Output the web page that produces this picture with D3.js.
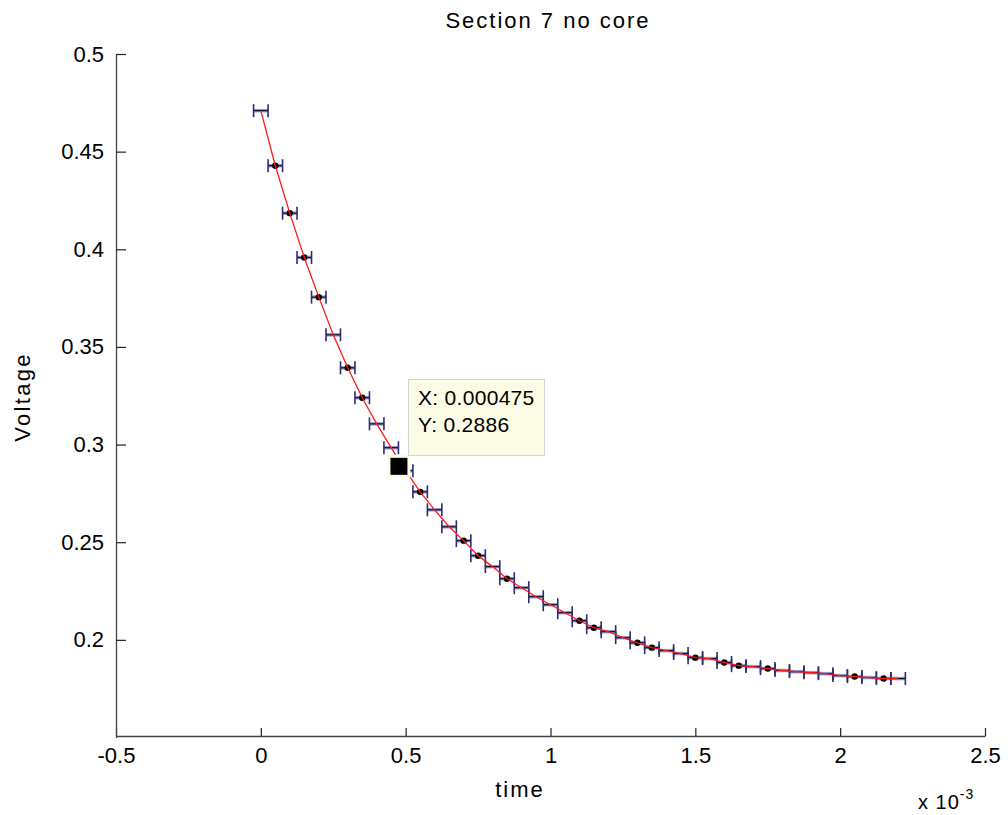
<!DOCTYPE html>
<html>
<head>
<meta charset="utf-8">
<script src="https://cdn.jsdelivr.net/npm/d3@7"></script>
<style>
  body { margin: 0; background: #fff; }
  svg { display: block; font-family: "Liberation Sans", Arial, sans-serif; }
</style>
</head>
<body>
<svg id="chart" width="1008" height="815"></svg>
<script>
// time in units of 1e-3 s
const time = [0, 0.05, 0.1, 0.15, 0.2, 0.25, 0.3, 0.35, 0.4, 0.45,
  0.5, 0.55, 0.6, 0.65, 0.7, 0.75, 0.8, 0.85, 0.9, 0.95,
  1.0, 1.05, 1.1, 1.15, 1.2, 1.25, 1.3, 1.35, 1.4, 1.45,
  1.5, 1.55, 1.6, 1.65, 1.7, 1.75, 1.8, 1.85, 1.9, 1.95,
  2.0, 2.05, 2.1, 2.15, 2.2];
const voltage = [0.471, 0.4428, 0.4185, 0.3958, 0.3755, 0.3562, 0.3393, 0.3240, 0.3106, 0.2984,
  0.2866, 0.2758, 0.2666, 0.2579, 0.2508, 0.2431, 0.2375, 0.2313, 0.2267, 0.2221,
  0.2180, 0.2139, 0.2098, 0.2062, 0.2042, 0.2011, 0.1985, 0.1960, 0.1945, 0.1930,
  0.1909, 0.1904, 0.1884, 0.1868, 0.1863, 0.1853, 0.1843, 0.1837, 0.1832, 0.1827,
  0.1817, 0.1812, 0.1807, 0.1802, 0.1802];
const timeErr = 0.025; // half width of horizontal error bars
// points whose marker dot shows through
const dotIdx = [1, 2, 3, 4, 6, 7, 11, 14, 15, 17, 22, 23, 26, 27, 30, 32, 33, 35, 41, 43];
const xTicks = [-0.5, 0, 0.5, 1, 1.5, 2, 2.5];
const yTicks = [0.2, 0.25, 0.3, 0.35, 0.4, 0.45, 0.5];
const tip = {x: 0.475, y: 0.2886, xText: 'X: 0.000475', yText: 'Y: 0.2886'};

const svg = d3.select('#chart');
const x = d3.scaleLinear().domain([-0.5, 2.5]).range([116, 985]);
const y = d3.scaleLinear().domain([0.15, 0.5]).range([737.5, 54]);

// axes (left + bottom only, ticks pointing in)
const gx = svg.append('g').attr('transform', 'translate(0,736)')
    .call(d3.axisBottom(x).tickValues(xTicks).tickSizeInner(-8).tickSizeOuter(0)
        .tickPadding(12).tickFormat(d => String(d)));
const gy = svg.append('g').attr('transform', 'translate(116,0)')
    .call(d3.axisLeft(y).tickValues(yTicks).tickSizeInner(-10).tickSizeOuter(0)
        .tickPadding(20).tickFormat(d => String(+d.toFixed(2))));
[gx, gy].forEach(g => {
  g.select('.domain').attr('stroke', '#444').attr('stroke-width', 1.3);
  g.selectAll('.tick line').attr('stroke', '#222').attr('stroke-width', 1.2);
  g.selectAll('.tick text').attr('fill', '#000').style('font-size', '22px');
});
gx.selectAll('.tick text').attr('y', 8).attr('dy', '0.85em');
gy.selectAll('.tick text').attr('x', -12);

const pts = time.map((t, i) => ({t, v: voltage[i], i}));

// error bars
const eb = svg.append('g');
eb.selectAll('line.under').data(pts).join('line').attr('class', 'under')
    .attr('x1', d => x(d.t - timeErr)).attr('x2', d => x(d.t + timeErr))
    .attr('y1', d => y(d.v)).attr('y2', d => y(d.v))
    .attr('stroke', '#9a9acc').attr('stroke-width', 3.5);
eb.selectAll('line.bar').data(pts).join('line').attr('class', 'bar')
    .attr('x1', d => x(d.t - timeErr)).attr('x2', d => x(d.t + timeErr))
    .attr('y1', d => y(d.v)).attr('y2', d => y(d.v))
    .attr('stroke', '#0a0a2a').attr('stroke-width', 1.2);
['-', '+'].forEach(side => {
  eb.selectAll('line.cap' + (side === '-' ? 'L' : 'R')).data(pts).join('line')
      .attr('class', 'cap' + (side === '-' ? 'L' : 'R'))
      .attr('x1', d => x(side === '-' ? d.t - timeErr : d.t + timeErr))
      .attr('x2', d => x(side === '-' ? d.t - timeErr : d.t + timeErr))
      .attr('y1', d => y(d.v) - 6.5).attr('y2', d => y(d.v) + 6.5)
      .attr('stroke', '#2c2c6e').attr('stroke-width', 1.6);
});

// dots
svg.append('g').selectAll('circle').data(pts.filter(d => dotIdx.includes(d.i))).join('circle')
    .attr('cx', d => x(d.t)).attr('cy', d => y(d.v)).attr('r', 3.2).attr('fill', '#000');

// red line
svg.append('path').datum(pts)
    .attr('d', d3.line().x(d => x(d.t)).y(d => y(d.v)))
    .attr('fill', 'none').attr('stroke', '#ff1a1a').attr('stroke-width', 1.3);

// data tip
const tx = x(tip.x), ty = y(tip.y);
svg.append('rect').attr('x', tx - 11).attr('y', ty - 12).attr('width', 23).attr('height', 23)
    .attr('fill', '#fdfde4');
svg.append('rect').attr('x', tx - 8).attr('y', ty - 9).attr('width', 17).attr('height', 17)
    .attr('fill', '#000');
svg.append('rect').attr('x', 408.5).attr('y', 379.5).attr('width', 136).attr('height', 76)
    .attr('fill', '#fbfbe6').attr('stroke', '#d4d4cc').attr('stroke-width', 1);
svg.append('text').attr('x', 418).attr('y', 405).style('font-size', '21px')
    .style('letter-spacing', '0.3px').text(tip.xText);
svg.append('text').attr('x', 418).attr('y', 432).style('font-size', '21px')
    .style('letter-spacing', '0.3px').text(tip.yText);

// titles
svg.append('text').attr('x', 548).attr('y', 28).attr('text-anchor', 'middle')
    .style('font-size', '22px').style('letter-spacing', '2px').text('Section 7 no core');
svg.append('text').attr('x', 520).attr('y', 797).attr('text-anchor', 'middle')
    .style('font-size', '22px').style('letter-spacing', '2px').text('time');
svg.append('text').attr('transform', 'translate(30,397) rotate(-90)').attr('text-anchor', 'middle')
    .style('font-size', '22px').style('letter-spacing', '2.3px').text('Voltage');
const ex = svg.append('text').attr('x', 918).attr('y', 809).style('font-size', '20px')
    .style('letter-spacing', '1px');
ex.append('tspan').text('x 10');
ex.append('tspan').attr('dy', -10).style('font-size', '14px').text('-3');
</script>
</body>
</html>
